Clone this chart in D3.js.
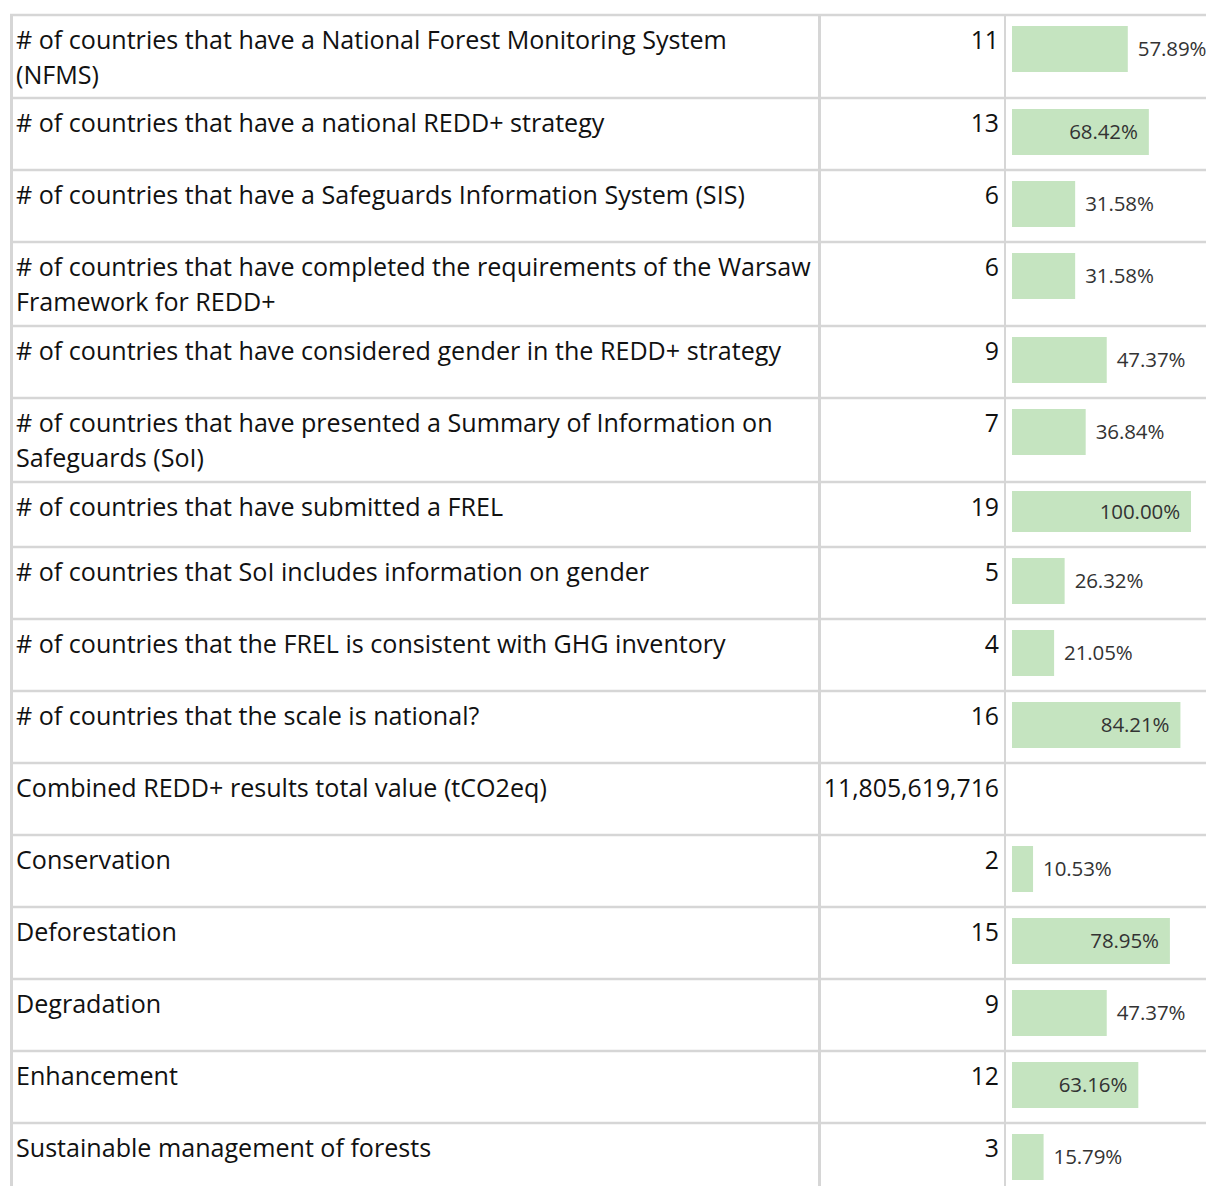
<!DOCTYPE html>
<html>
<head>
<meta charset="utf-8">
<script src="https://cdn.jsdelivr.net/npm/d3@7"></script>
<style>
  body { margin: 0; background: #fff; }
  svg { display: block; }
</style>
</head>
<body>
<div id="table"></div>
<script>
//data
const labels = [
  "# of countries that have a National Forest Monitoring System\n(NFMS)",
  "# of countries that have a national REDD+ strategy",
  "# of countries that have a Safeguards Information System (SIS)",
  "# of countries that have completed the requirements of the Warsaw\nFramework for REDD+",
  "# of countries that have considered gender in the REDD+ strategy",
  "# of countries that have presented a Summary of Information on\nSafeguards (SoI)",
  "# of countries that have submitted a FREL",
  "# of countries that SoI includes information on gender",
  "# of countries that the FREL is consistent with GHG inventory",
  "# of countries that the scale is national?",
  "Combined REDD+ results total value (tCO2eq)",
  "Conservation",
  "Deforestation",
  "Degradation",
  "Enhancement",
  "Sustainable management of forests"
]
const values = [11, 13, 6, 6, 9, 7, 19, 5, 4, 16, 11805619716, 2, 15, 9, 12, 3]
// rows that get a data bar (the tCO2eq total does not)
const hasBar = [true, true, true, true, true, true, true, true, true, true, false, true, true, true, true, true]
const totalCountries = 19

//layout
const width = 1206, height = 1186
const top0 = 14
const rowHeights = [83, 72, 72, 84, 72, 84, 65, 72, 72, 72, 72, 72, 72, 72, 72, 72]
const col1 = 11.5, col2 = 819.5, col3 = 1005
const barMax = 179
const gridColor = '#d6d6d6'

const rows = labels.map((d, i) => ({
  label: d,
  value: values[i],
  bar: hasBar[i],
  pct: values[i] / totalCountries,
  y: top0 + d3.sum(rowHeights.slice(0, i)),
  h: rowHeights[i]
}))

const svg = d3.select('#table')
  .append('svg')
  .attr('width', width)
  .attr('height', height)
  .style('font-family', '"Open Sans", "Noto Sans", sans-serif')

//scales
const x = d3.scaleLinear()
  .domain([0, 1])
  .range([0, 200])
const fmtPct = d3.format('.2%')
const fmtVal = d3.format(',')

//grid
const grid = svg.append('g').attr('stroke', gridColor)
grid.selectAll('line.h')
  .data(rows.map(r => r.y).concat([top0 + d3.sum(rowHeights)]))
  .join('line')
  .attr('class', 'h')
  .attr('x1', 10).attr('x2', width)
  .attr('y1', d => d + 1).attr('y2', d => d + 1)
  .attr('stroke-width', 2.5)
grid.append('line')
  .attr('x1', col1).attr('x2', col1)
  .attr('y1', top0).attr('y2', height)
  .attr('stroke-width', 3)
grid.append('line')
  .attr('x1', col2).attr('x2', col2)
  .attr('y1', top0).attr('y2', height)
  .attr('stroke-width', 3)
grid.append('line')
  .attr('x1', col3).attr('x2', col3)
  .attr('y1', top0).attr('y2', height)
  .attr('stroke-width', 2)

const row = svg.append('g')
  .selectAll('g')
  .data(rows)
  .join('g')
  .attr('transform', d => `translate(0,${d.y})`)

//labels
row.append('text')
  .attr('font-size', 25.1)
  .attr('fill', '#111')
  .selectAll('tspan')
  .data(d => d.label.split('\n'))
  .join('tspan')
  .attr('x', 16)
  .attr('y', (d, i) => 26 + i * 35)
  .attr('dy', '0.35em')
  .text(d => d)

//values
row.append('text')
  .attr('x', 999)
  .attr('y', 26)
  .attr('dy', '0.35em')
  .attr('text-anchor', 'end')
  .attr('font-size', 24.8)
  .attr('fill', '#111')
  .text(d => fmtVal(d.value))

//bars
const barRows = row.filter(d => d.bar)
const barH = d => Math.min(46, d.h - 24)
const barW = d => Math.min(barMax, x(d.pct))

barRows.append('rect')
  .attr('x', 1012)
  .attr('y', d => d.h < 70 ? 10 : 12)
  .attr('width', barW)
  .attr('height', barH)
  .attr('fill', '#c5e4c0')

barRows.append('text')
  .attr('x', d => barW(d) >= 120 ? 1012 + barW(d) - 11 : 1012 + barW(d) + 10)
  .attr('y', d => (d.h < 70 ? 10 : 12) + barH(d) / 2)
  .attr('dy', '0.35em')
  .attr('text-anchor', d => barW(d) >= 120 ? 'end' : 'start')
  .attr('font-size', 20.5)
  .attr('letter-spacing', -0.1)
  .attr('fill', '#333')
  .text(d => fmtPct(d.pct))
</script>
</body>
</html>
